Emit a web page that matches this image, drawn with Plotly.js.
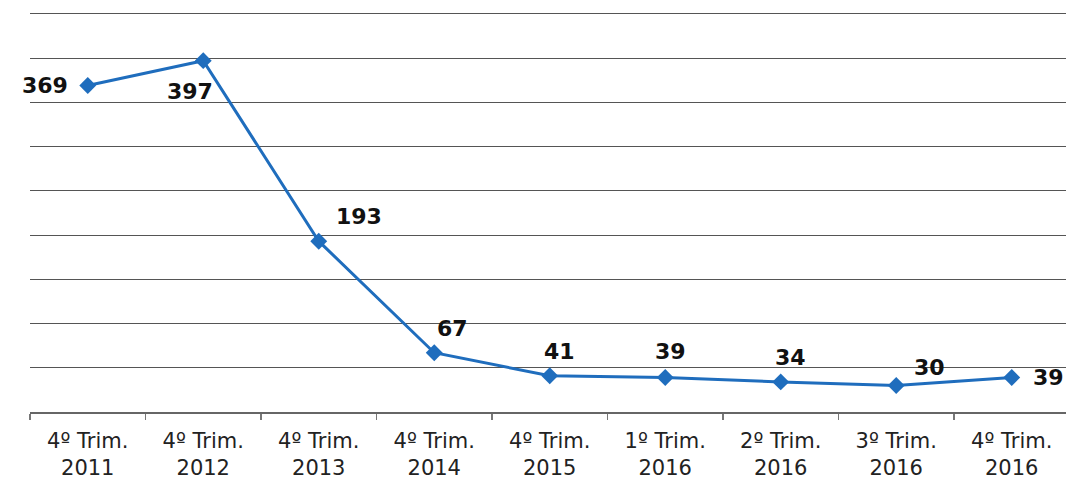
<!DOCTYPE html>
<html>
<head>
<meta charset="utf-8">
<script src="https://cdn.plot.ly/plotly-3.0.1.min.js"></script>
<style>html,body{margin:0;padding:0;background:#fff;}#chart{width:1066px;height:479px;}</style>
</head>
<body>
<div id="chart"></div>
<script>
const categories = ["4º Trim.<br>2011","4º Trim.<br>2012","4º Trim.<br>2013","4º Trim.<br>2014","4º Trim.<br>2015","1º Trim.<br>2016","2º Trim.<br>2016","3º Trim.<br>2016","4º Trim.<br>2016"];
const values = [369, 397, 193, 67, 41, 39, 34, 30, 39];
const labelShiftX = [-43, -13, 40, 18, 10, 5, 10, 33, 37];
const labelShiftY = [0, -31, 25, 24, 24, 26, 24, 18, 0];

const trace = {
  x: categories,
  y: values,
  type: 'scatter',
  mode: 'lines+markers',
  line: {color: '#1f6dbd', width: 3},
  marker: {symbol: 'diamond', size: 13, color: '#1f6dbd'},
  hoverinfo: 'skip'
};

const annotations = values.map((v, i) => ({
  x: categories[i], y: v, xref: 'x', yref: 'y',
  text: String(v), showarrow: false,
  xshift: labelShiftX[i], yshift: labelShiftY[i],
  font: {family: 'DejaVu Sans', size: 22, color: '#111', weight: 'bold'}
}));

const layout = {
  width: 1066, height: 479,
  margin: {l: 30, r: 0, t: 12, b: 67},
  paper_bgcolor: '#fff', plot_bgcolor: '#fff',
  showlegend: false,
  font: {family: 'DejaVu Sans', color: '#222'},
  xaxis: {
    type: 'category', range: [-0.5, 8.47],
    showgrid: false, showline: true, linecolor: '#666', linewidth: 1.5,
    ticks: 'outside', tickson: 'boundaries', ticklen: 6, tickcolor: '#777', tickwidth: 1.2,
    tickfont: {family: 'DejaVu Sans', size: 21, color: '#222'},
    ticklabelstandoff: 9,
    fixedrange: true
  },
  yaxis: {
    range: [0, 452], tickvals: [50,100,150,200,250,300,350,400,450], showticklabels: false,
    showgrid: true, gridcolor: '#555', gridwidth: 1,
    zeroline: false, showline: false, ticks: '',
    fixedrange: true
  },
  annotations: annotations
};

Plotly.newPlot('chart', [trace], layout, {displayModeBar: false, staticPlot: true});
</script>
</body>
</html>
